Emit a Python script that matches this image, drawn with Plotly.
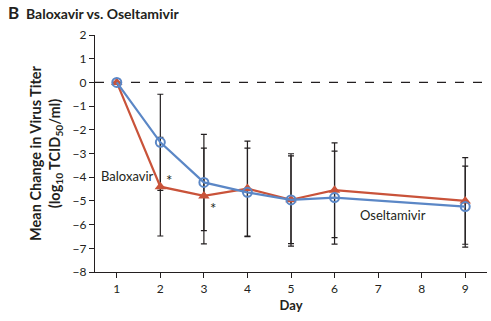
import plotly.graph_objects as go

days = [1, 2, 3, 4, 5, 6, 9]
osel_y = [0, -2.53, -4.22, -4.64, -4.96, -4.86, -5.24]
osel_err = [0, 2.03, 2.03, 1.87, 1.95, 1.96, 1.71]
balox_y = [0, -4.40, -4.79, -4.48, -4.95, -4.55, -5.00]
balox_err = [0, 2.08, 2.02, 2.00, 1.85, 2.00, 1.83]
y_ticks = list(range(-8, 3))
x_ticks = list(range(1, 10))

BLUE = "#5b87c6"
RED = "#c9533a"
INK = "#231f20"
FONT = "Lato"

fig = go.Figure()
for yv, ev in [(osel_y, osel_err), (balox_y, balox_err)]:
    fig.add_trace(go.Scatter(
        x=days, y=yv, mode="markers",
        marker=dict(size=1, opacity=0),
        error_y=dict(type="data", array=ev, visible=True, color=INK, thickness=1.2, width=3),
        hoverinfo="skip", showlegend=False))

fig.add_trace(go.Scatter(
    x=days, y=balox_y, mode="lines+markers", name="Baloxavir",
    line=dict(color=RED, width=2.2),
    marker=dict(symbol="triangle-up", size=10, color=RED),
    showlegend=False))
fig.add_trace(go.Scatter(
    x=days, y=osel_y, mode="lines+markers", name="Oseltamivir",
    line=dict(color=BLUE, width=2.2),
    marker=dict(symbol="circle-open", size=9, color=BLUE, line=dict(width=2, color=BLUE)),
    showlegend=False))

fig.add_shape(type="line", xref="paper", yref="y", x0=0, x1=1, y0=0, y1=0,
              line=dict(color=INK, width=1.2, dash="dash"), layer="below")

fig.add_annotation(x=2, y=-3.95, xref="x", yref="y", text="Baloxavir", showarrow=False,
                   xanchor="right", xshift=-4, font=dict(family=FONT, size=13, color=INK))
fig.add_annotation(x=2, y=-4.4, text="*", showarrow=False, xanchor="left", yanchor="bottom",
                   xshift=4, yshift=-4, font=dict(family=FONT, size=15, color=INK))
fig.add_annotation(x=3, y=-4.79, text="*", showarrow=False, xanchor="left", yanchor="top",
                   xshift=4, yshift=-1, font=dict(family=FONT, size=15, color=INK))
fig.add_annotation(x=7.35, y=-5.6, text="Oseltamivir", showarrow=False,
                   font=dict(family=FONT, size=13, color=INK))

fig.add_annotation(x=0, y=1, xref="paper", yref="paper", xanchor="left", yanchor="bottom",
                   text="<b><span style='font-size:17px'>B</span>  Baloxavir vs. Oseltamivir</b>",
                   showarrow=False, xshift=-89, yshift=10,
                   font=dict(family=FONT, size=14, color=INK))

fig.update_layout(
    width=491, height=321,
    margin=dict(l=95, r=4, t=35, b=49),
    paper_bgcolor="white", plot_bgcolor="white",
    font=dict(family=FONT, size=12, color=INK),
    xaxis=dict(range=[0.5, 9.5], tickvals=x_ticks, ticks="outside", ticklen=5, tickwidth=1.2,
               tickcolor=INK, showline=True, linecolor=INK, linewidth=1.2, showgrid=False,
               zeroline=False, title=dict(text="<b>Day</b>", standoff=6, font=dict(size=13))),
    yaxis=dict(range=[-8, 2], tickvals=y_ticks, ticks="outside", ticklen=5, tickwidth=1.2,
               tickcolor=INK, showline=True, linecolor=INK, linewidth=1.2, showgrid=False,
               zeroline=False,
               title=dict(text="<b>Mean Change in Virus Titer<br>(log<sub>10</sub> TCID<sub>50</sub>/ml)</b>",
                          standoff=8, font=dict(size=14.5))),
)

fig.write_html("out.html")
